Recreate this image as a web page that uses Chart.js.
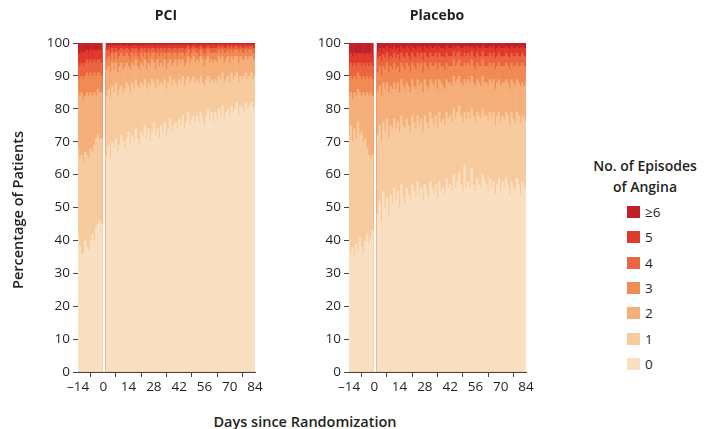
<!DOCTYPE html>
<html><head><meta charset="utf-8">
<script src="https://cdn.jsdelivr.net/npm/chart.js@4.4.1/dist/chart.umd.min.js"></script>
<style>
html,body{margin:0;padding:0;background:#fff;}
body{width:705px;height:429px;position:relative;overflow:hidden;font-family:"Open Sans",sans-serif;color:#231f20;}
canvas{position:absolute;top:0;}
.t{position:absolute;white-space:nowrap;}
.ptitle{top:6px;font-weight:700;font-size:14px;line-height:18px;width:120px;text-align:center;}
.ytitle{left:-87px;top:200px;width:210px;height:20px;line-height:20px;text-align:center;font-size:14.5px;font-weight:600;transform:rotate(-90deg);}
.xtitle{left:155px;top:412px;width:300px;text-align:center;font-size:14.5px;font-weight:600;line-height:20px;}
.ltitle{left:575px;top:155px;width:140px;text-align:center;font-size:14px;font-weight:600;line-height:21px;}
.sw{position:absolute;width:13px;height:12px;}
.lb{position:absolute;font-size:13.5px;line-height:16px;}
</style></head><body>
<canvas id="pci" width="270" height="410" style="left:0px"></canvas>
<canvas id="pl" width="270" height="410" style="left:271px"></canvas>
<div class="t ptitle" style="left:106px">PCI</div>
<div class="t ptitle" style="left:377px">Placebo</div>
<div class="t ytitle">Percentage of Patients</div>
<div class="t xtitle">Days since Randomization</div>
<div class="t ltitle">No. of Episodes<br>of Angina</div>
<div id="legend"></div>
<script>
// Days (pre-randomization and after randomization)
const days = [-14,-13,-12,-11,-10,-9,-8,-7,-6,-5,-4,-3,-2,-1,
  2,3,4,5,6,7,8,9,10,11,12,13,14,15,16,17,18,19,20,21,22,23,24,25,26,27,28,29,30,31,
  32,33,34,35,36,37,38,39,40,41,42,43,44,45,46,47,48,49,50,51,52,53,54,55,56,57,58,59,60,61,
  62,63,64,65,66,67,68,69,70,71,72,73,74,75,76,77,78,79,80,81,82,83,84];
const xTicks = [-14,0,14,28,42,56,70,84];
const yTicks = [0,10,20,30,40,50,60,70,80,90,100];
const categories = ['0','1','2','3','4','5','\u22656'];
const colors = ['#F9E0C2','#F7CB9D','#F5AF7A','#F18B55','#EB6541','#E03A2D','#C0202A'];
const TOTAL = 100;

// Cumulative % of patients with at most k episodes, PCI
const pciLe0 = [42,38,36,36,40,38,37,40,42,40,44,45,46,45,
  66,69,65,70,68,71,67,69,72,70, 68,71,73,69,72,70,74,71,69,73, 72,75,71,74,70,73,76,72,74,71,
  75,73,76,72,74,77,73,75,76,74, 77,75,78,74,76,79,75,77,78,76, 78,76,79,77,75,78,80,77,79,76,
  79,77,80,78,81,77,79,80,78,81, 79,80,82,78,81,80,79,82,80,81, 82,80,81];
const pciLe1 = [68,65,66,64,67,66,65,68,67,69,71,72,71,71,
  84,86,83,87,85,88,84,86,87,85, 86,88,87,85,88,86,89,87,86,88, 87,89,86,88,87,89,88,86,89,87,
  88,87,89,86,88,90,87,89,88,87, 89,88,90,87,89,90,88,89,90,88, 89,88,90,88,87,89,90,88,89,88,
  89,88,90,89,91,88,89,90,88,91, 89,90,91,88,90,89,90,91,89,90, 91,89,90];
const pciLe2 = [85,84,85,83,84,85,84,85,84,85,84,86,85,85,
  92,93,91,94,92,94,91,93,94,92, 93,94,93,92,94,93,95,93,92,94, 93,95,92,94,93,95,94,92,95,93,
  94,93,95,92,94,95,93,94,95,93, 95,94,95,93,94,96,94,95,96,94, 95,94,96,95,93,95,96,94,95,94,
  95,94,96,95,96,94,95,96,94,96, 95,96,96,94,96,95,95,96,95,96, 96,95,95];
const pciLe3 = [90,89,90,89,90,91,90,91,90,91,90,91,91,90,
  95,96,95,97,95,97,95,96,97,96, 96,97,96,95,97,96,97,96,95,97, 96,97,95,97,96,97,97,95,97,96,
  97,96,97,95,97,97,96,97,97,96, 97,97,97,96,97,98,96,97,98,97, 97,96,98,97,96,97,98,97,97,97,
  97,97,98,97,98,97,97,98,97,98, 97,98,98,97,98,97,97,98,97,98, 98,97,97];
const pciLe4 = [94,93,94,93,94,95,94,95,94,95,94,95,95,94,
  97.5,98,97,98.5,97.5,98.5,97.5,98,98.5,98, 98,98.5,98,97.5,98.5,98,98.5,98,97.5,98.5,
  98,98.5,97.5,98.5,98,98.5,98.5,97.5,98.5,98, 98.5,98,98.5,97.5,98.5,98.5,98,98.5,98.5,98,
  98.5,98.5,98.5,98,98.5,99,98,98.5,99,98.5, 98.5,98,99,98.5,98,98.5,99,98.5,98.5,98.5,
  98.5,98.5,99,98.5,99,98.5,98.5,99,98.5,99, 98.5,99,99,98.5,99,98.5,98.5,99,98.5,99, 99,98.5,98.5];
const pciLe5 = [97,96.5,97.5,97,97.5,98,97,98,97.5,98,97.5,98,98,97.5,
  99,99.3,98.8,99.5,99,99.5,99,99.3,99.5,99.2, 99.3,99.5,99.2,99,99.5,99.3,99.5,99.2,99,99.5,
  99.2,99.5,99,99.5,99.3,99.6,99.5,99,99.5,99.3, 99.5,99.2,99.6,99,99.5,99.6,99.3,99.5,99.6,99.2,
  99.5,99.6,99.5,99.3,99.6,99.7,99.3,99.5,99.7,99.5, 99.6,99.3,99.7,99.5,99.3,99.6,99.7,99.5,99.6,99.5,
  99.6,99.5,99.7,99.5,99.7,99.5,99.6,99.7,99.5,99.7, 99.6,99.7,99.7,99.5,99.7,99.5,99.6,99.7,99.5,99.7, 99.7,99.5,99.6];

// Cumulative % of patients with at most k episodes, Placebo
const plLe0 = [40,36,38,35,39,37,41,38,36,40,42,39,41,43,
  48,52,46,55,50,53,47,54,51,56, 52,55,50,57,53,51,56,54,52,57, 55,53,58,54,56,52,57,55,53,58,
  56,54,57,53,58,55,56,54,59,56, 57,55,60,56,58,61,57,55,63,56, 58,56,62,57,55,59,57,56,60,58,
  57,55,59,56,58,54,57,59,55,58, 56,59,57,54,58,56,55,59,57,54, 58,56,55];
const plLe1 = [72,75,70,74,71,76,72,73,70,71,68,66,65,66,
  72,75,70,76,73,77,71,75,74,77, 74,76,73,78,75,74,77,75,73,78, 76,74,78,75,77,73,78,76,74,79,
  77,75,78,74,79,76,77,75,79,77, 78,76,80,77,79,81,78,76,79,77, 79,77,80,78,76,79,78,77,80,78,
  78,76,79,77,79,75,78,79,76,78, 77,79,78,75,79,77,76,79,78,76, 78,77,76];
const plLe2 = [84,85,83,85,84,86,85,84,85,84,85,84,85,84,
  85,87,84,88,86,88,85,87,86,88, 86,88,85,89,87,86,88,87,85,89, 87,86,89,87,88,85,89,87,86,89,
  88,87,89,86,89,88,87,86,89,88, 88,87,90,88,89,90,88,87,89,88, 89,88,90,88,87,89,88,87,90,88,
  88,87,89,88,89,86,88,89,87,88, 88,89,88,86,89,88,87,89,88,87, 88,87,88];
const plLe3 = [89,90,89,90,89,91,90,89,90,89,90,89,90,89,
  91,93,90,93,92,94,91,93,92,94, 92,93,91,94,93,92,94,93,91,94, 93,92,94,93,94,91,94,93,92,94,
  93,93,94,92,94,93,93,92,94,93, 93,93,95,93,94,95,93,93,94,93, 94,93,95,93,92,94,93,93,95,93,
  93,93,94,93,94,92,93,94,93,93, 93,94,93,92,94,93,93,94,93,93, 94,93,93];
const plLe4 = [93,94,93,94,93,94,94,93,94,93,94,93,94,93,
  95,96,94.5,96.5,95.5,97,95,96,95.5,97, 95.5,96.5,95,97,96,95.5,97,96,95,97,
  96,95.5,97,96,97,95,97,96,95.5,97, 96,96,97,95.5,97,96,96,95.5,97,96,
  96,96,97.5,96,97,97.5,96,96,97,96, 97,96,97.5,96,95.5,97,96,96,97.5,96,
  96,96,97,96,97,95.5,96,97,96,96, 96,97,96,95.5,97,96,96,97,96,96, 97,96,96];
const plLe5 = [96.5,97,96,97,96.5,97,97,96.5,97,96.5,97,96.5,97,96.5,
  97.5,98.5,97,98.5,98,99,97.5,98.5,98,99, 98,98.5,97.5,99,98.5,98,99,98.5,97.5,99,
  98.5,98,99,98.5,99,97.5,99,98.5,98,99, 98.5,98.5,99,98,99,98.5,98.5,98,99,98.5,
  98.5,98.5,99,98.5,99,99,98.5,98.5,99,98.5, 99,98.5,99,98.5,98,99,98.5,98.5,99,98.5,
  98.5,98.5,99,98.5,99,98,98.5,99,98.5,98.5, 98.5,99,98.5,98,99,98.5,98.5,99,98.5,98.5, 99,98.5,98.5];

Chart.defaults.font.family = '"Open Sans", sans-serif';
Chart.defaults.font.size = 13.5;
Chart.defaults.color = '#231f20';

function buildChart(id, cums) {
  const layers = cums.concat([days.map(() => TOTAL)]);
  const datasets = layers.map((arr, k) => ({
    label: categories[k],
    data: days.map((d, i) => ({x: d, y: arr[i]})),
    backgroundColor: colors[k],
    borderWidth: 0,
    barPercentage: 1.3,
    categoryPercentage: 1,
    grouped: false,
    order: k
  }));
  return new Chart(document.getElementById(id), {
    type: 'bar',
    data: {datasets},
    options: {
      responsive: false,
      devicePixelRatio: 1,
      animation: false,
      events: [],
      layout: {padding: {top: 43, right: 15, bottom: 10, left: 0}},
      plugins: {legend: {display: false}, tooltip: {enabled: false}},
      scales: {
        x: {
          type: 'linear', min: -14, max: 84, offset: false,
          afterBuildTicks: s => { s.ticks = xTicks.map(v => ({value: v})); },
          afterFit: s => { s.height = 28; s.paddingLeft = 0; s.paddingRight = 0; },
          ticks: {autoSkip: false, maxRotation: 0, padding: 2, color: '#231f20',
                  callback: v => String(v).replace('-', '\u2013')},
          grid: {display: true, drawOnChartArea: false, drawTicks: true, tickLength: 5, color: '#444'},
          border: {display: true, color: '#444', width: 1}
        },
        y: {
          type: 'linear', min: 0, max: 100,
          afterBuildTicks: s => { s.ticks = yTicks.map(v => ({value: v})); },
          afterFit: s => { s.width = 78; s.paddingTop = 0; s.paddingBottom = 0; },
          ticks: {padding: 3, color: '#231f20'},
          grid: {display: true, drawOnChartArea: false, drawTicks: true, tickLength: 5, color: '#444'},
          border: {display: true, color: '#444', width: 1}
        }
      }
    }
  });
}

buildChart('pci', [pciLe0, pciLe1, pciLe2, pciLe3, pciLe4, pciLe5]);
buildChart('pl', [plLe0, plLe1, plLe2, plLe3, plLe4, plLe5]);

// Legend
const leg = document.getElementById('legend');
for (let k = categories.length - 1, j = 0; k >= 0; k--, j++) {
  const top = 206 + j * 25.3;
  const sw = document.createElement('div');
  sw.className = 'sw';
  sw.style.left = '627px'; sw.style.top = top + 'px';
  sw.style.background = colors[k];
  leg.appendChild(sw);
  const lb = document.createElement('div');
  lb.className = 'lb';
  lb.style.left = '645px'; lb.style.top = (top - 2) + 'px';
  lb.textContent = categories[k];
  leg.appendChild(lb);
}
</script>
</body></html>
